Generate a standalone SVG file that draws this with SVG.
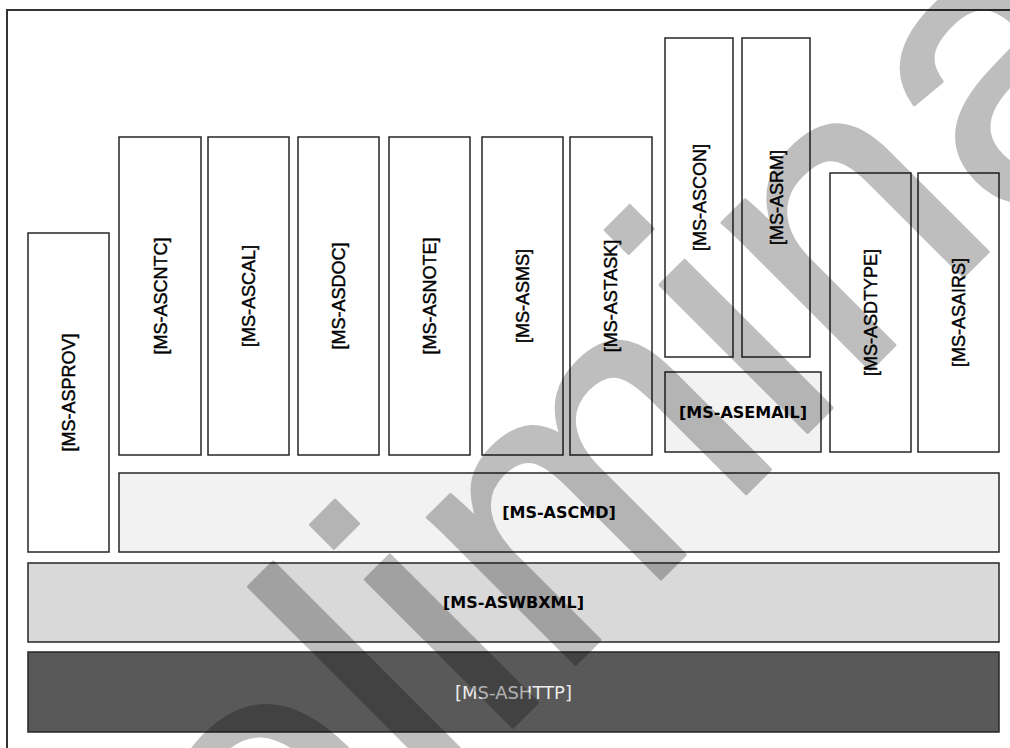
<svg xmlns="http://www.w3.org/2000/svg" width="1010" height="748" viewBox="0 0 1010 748">
<style>
.box{fill:#ffffff;stroke:#262626;stroke-width:1.5}
.light{fill:#f2f2f2}
.mid{fill:#d9d9d9}
.dark{fill:#595959}
.vl{font-family:"Liberation Sans",Arial,sans-serif;font-size:18px;fill:#000;stroke:#000;stroke-width:0.4;text-anchor:middle;dominant-baseline:central}
.hl{font-family:"DejaVu Sans",Verdana,sans-serif;font-size:16px;font-weight:bold;fill:#000;text-anchor:middle;dominant-baseline:central}
.hd{font-family:"DejaVu Sans",Verdana,sans-serif;font-size:18px;fill:#ececec;text-anchor:middle;dominant-baseline:central}
.frame{fill:none;stroke:#333;stroke-width:2}
</style>
<rect width="1010" height="748" fill="#ffffff"/>
<path class="frame" d="M7,748 V10 H1010"/>
<g id="asprov"><rect class="box" x="28" y="233" width="81" height="319"/><text class="vl" transform="translate(69,392.5) rotate(-90)">[MS-ASPROV]</text></g>
<g id="ascntc"><rect class="box" x="119" y="137" width="82" height="318"/><text class="vl" transform="translate(161,296) rotate(-90)">[MS-ASCNTC]</text></g>
<g id="ascal"><rect class="box" x="208" y="137" width="81" height="318"/><text class="vl" transform="translate(249,296) rotate(-90)">[MS-ASCAL]</text></g>
<g id="asdoc"><rect class="box" x="298" y="137" width="81" height="318"/><text class="vl" transform="translate(339,296) rotate(-90)">[MS-ASDOC]</text></g>
<g id="asnote"><rect class="box" x="389" y="137" width="81" height="318"/><text class="vl" transform="translate(430,296) rotate(-90)">[MS-ASNOTE]</text></g>
<g id="asms"><rect class="box" x="482" y="137" width="81" height="318"/><text class="vl" transform="translate(523,296) rotate(-90)">[MS-ASMS]</text></g>
<g id="astask"><rect class="box" x="570" y="137" width="82" height="318"/><text class="vl" transform="translate(611,296) rotate(-90)">[MS-ASTASK]</text></g>
<g id="ascon"><rect class="box" x="665" y="38" width="68" height="319"/><text class="vl" transform="translate(700,197.5) rotate(-90)">[MS-ASCON]</text></g>
<g id="asrm"><rect class="box" x="742" y="38" width="68" height="319"/><text class="vl" transform="translate(777,197.5) rotate(-90)">[MS-ASRM]</text></g>
<g id="asemail"><rect class="box light" x="665" y="372" width="156" height="80"/><text class="hl" x="743" y="412">[MS-ASEMAIL]</text></g>
<g id="asdtype"><rect class="box" x="830" y="173" width="81" height="279"/><text class="vl" transform="translate(871,312.5) rotate(-90)">[MS-ASDTYPE]</text></g>
<g id="asairs"><rect class="box" x="918" y="173" width="81" height="279"/><text class="vl" transform="translate(959,312.5) rotate(-90)">[MS-ASAIRS]</text></g>
<g id="ascmd"><rect class="box light" x="119" y="473" width="880" height="79"/><text class="hl" x="559" y="512.5">[MS-ASCMD]</text></g>
<g id="aswbxml"><rect class="box mid" x="28" y="563" width="971" height="79"/><text class="hl" x="513.5" y="602.5">[MS-ASWBXML]</text></g>
<g id="ashttp"><rect class="box dark" x="28" y="652" width="971" height="80"/><text class="hd" x="513.5" y="692">[MS-ASHTTP]</text></g>
<g id="watermark" opacity="0.25"><text x="0" y="0" transform="translate(-2.5,1242.5) rotate(-45)" font-family="Liberation Sans, Arial, sans-serif" font-size="395" fill="#000" stroke="#000" stroke-width="3" stroke-linejoin="round">Preliminary</text></g>
</svg>
